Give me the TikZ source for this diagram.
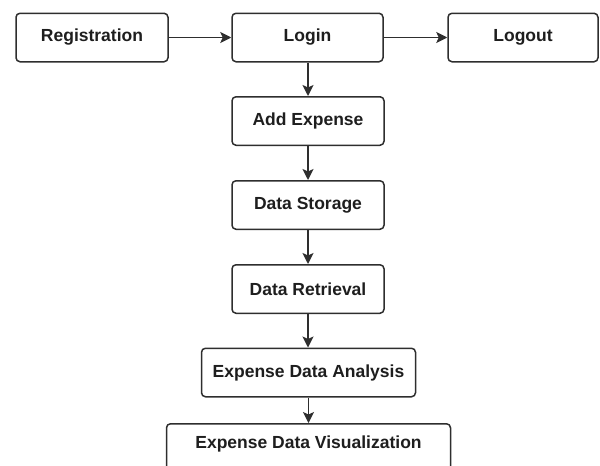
\documentclass[tikz,border=0pt]{standalone}
\usepackage{fontspec}
\setmainfont{Liberation Sans}
\usetikzlibrary{arrows.meta}
\definecolor{edge}{HTML}{2E2E2E}
\definecolor{ink}{HTML}{1E1E1E}
\begin{document}
\begin{tikzpicture}[x=1pt,y=-1pt,
  stepbox/.style={draw=edge, line width=1.5pt, rounded corners=4pt, fill=white,
    minimum height=48.5pt, inner sep=0pt, text=ink,
    font=\fontsize{17.5}{20}\selectfont\bfseries},
  flow/.style={draw=edge, line width=1.5pt,
    -{Stealth[length=11pt,width=11pt,inset=2.5pt]}}]
  \useasboundingbox (0,0) rectangle (600,466);
  \clip (0,0) rectangle (600,466);

  % top row
  \node[stepbox, minimum width=152pt] (reg)    at (92,37.5)   {Registration};
  \node[stepbox, minimum width=151pt] (login)  at (307.5,37.5) {Login};
  \node[stepbox, minimum width=150pt] (logout) at (523,37.5)  {Logout};

  % main column
  \node[stepbox, minimum width=152pt] (add)      at (308,121)   {Add Expense};
  \node[stepbox, minimum width=152pt] (store)    at (308,205)   {Data Storage};
  \node[stepbox, minimum width=152pt] (retr)     at (308,289)   {Data Retrieval};
  \node[stepbox, minimum width=214pt] (analysis) at (308.5,372.5) {Expense Data Analysis};
  % last box runs past the lower edge of the page
  \node[stepbox, minimum width=284pt, minimum height=0pt, anchor=north,
        inner ysep=8pt, text height=17pt, text depth=30pt] (vis)
        at (308.5,423) {Expense Data Visualization};

  % connectors
  \draw[flow] (reg.east) -- (login.west);
  \draw[flow] (login.east) -- (logout.west);
  \draw[flow] (login.south -| add.north) -- (add.north);
  \draw[flow] (add) -- (store);
  \draw[flow] (store) -- (retr);
  \draw[flow] (retr.south) -- (retr.south |- analysis.north);
  \draw[flow] (analysis.south) -- (analysis.south |- vis.north);
\end{tikzpicture}
\end{document}
